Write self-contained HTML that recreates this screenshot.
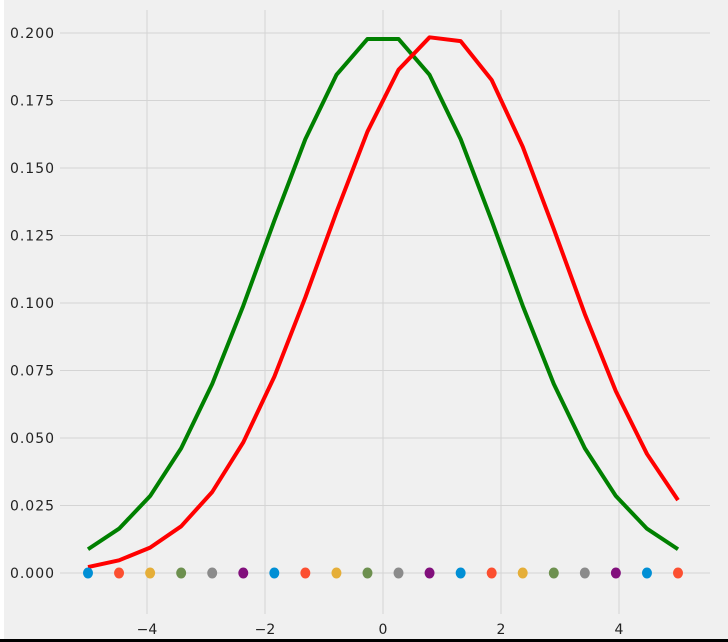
<!DOCTYPE html>
<html><head><meta charset="utf-8"><style>
body{margin:0;background:#fff}
svg{display:block;font-family:"DejaVu Sans","Liberation Sans",sans-serif}
</style></head><body>
<svg width="728" height="642" viewBox="0 0 728 642">
<rect x="4" y="0" width="724" height="640" fill="#f0f0f0"/>
<rect x="0" y="639" width="728" height="3" fill="#000"/>
<g id="grid"></g><g id="series"></g><g id="dots"></g><g id="labels"></g>
</svg>
<script>
const xs=[-5,-4.474,-3.947,-3.421,-2.895,-2.368,-1.842,-1.316,-0.789,-0.263,0.263,0.789,1.316,1.842,2.368,2.895,3.421,3.947,4.474,5];
const greenVals=[0.0088,0.0164,0.0285,0.0462,0.0700,0.0990,0.1305,0.1607,0.1845,0.1978,0.1978,0.1845,0.1607,0.1305,0.0990,0.0700,0.0462,0.0285,0.0164,0.0088];
const redVals=[0.0022,0.0047,0.0094,0.0173,0.0300,0.0484,0.0727,0.1021,0.1337,0.1635,0.1864,0.1984,0.1970,0.1826,0.1579,0.1274,0.0959,0.0673,0.0441,0.0270];
const dotColors=["#008fd5","#fc4f30","#e5ae38","#6d904f","#8b8b8b","#810f7c"];
const xTicks=[-4,-2,0,2,4];
const xTickLabels=["\u22124","\u22122","0","2","4"];
const yTicks=[0,0.025,0.05,0.075,0.1,0.125,0.15,0.175,0.2];
const yTickLabels=["0.000","0.025","0.050","0.075","0.100","0.125","0.150","0.175","0.200"];
const X=v=>383+v*59, Y=v=>573-v*2700;
const NS="http://www.w3.org/2000/svg";
function mk(t,a,p){const e=document.createElementNS(NS,t);for(const k in a)e.setAttribute(k,a[k]);p.appendChild(e);return e;}
const g=document.getElementById('grid'),s=document.getElementById('series'),d=document.getElementById('dots'),l=document.getElementById('labels');
xTicks.forEach((v,i)=>{
 const ln=mk('line',{x1:X(v),x2:X(v),y1:10,y2:614,stroke:'#d4d4d4','stroke-width':1},g);
 
 
 const t=mk('text',{x:X(v),y:634,'text-anchor':'middle','font-size':14,fill:'#222'},l);
 t.textContent=xTickLabels[i];
 
 
});
yTicks.forEach((v,i)=>{
 const ln=mk('line',{x1:60,x2:710,y1:Y(v),y2:Y(v),stroke:'#d4d4d4','stroke-width':1},g);
 
 
 const t=mk('text',{x:54,y:Y(v)+5,'text-anchor':'end','font-size':14,fill:'#222'},l);
 t.textContent=yTickLabels[i];
 t.setAttribute('textLength','44');
 
 
});
function line(vals,color,name){
 const p=mk('polyline',{points:xs.map((x,i)=>X(x)+','+Y(vals[i])).join(' '),fill:'none',stroke:color,'stroke-width':4,'stroke-linejoin':'round'},s);
 
 
}
line(greenVals,'#008000','green-curve');
line(redVals,'#ff0000','red-curve');
xs.forEach((x,i)=>{
 const c=mk('ellipse',{cx:X(x),cy:Y(0),rx:5,ry:5.5,fill:dotColors[i%6]},d);
 
 
});
</script>
</body></html>
